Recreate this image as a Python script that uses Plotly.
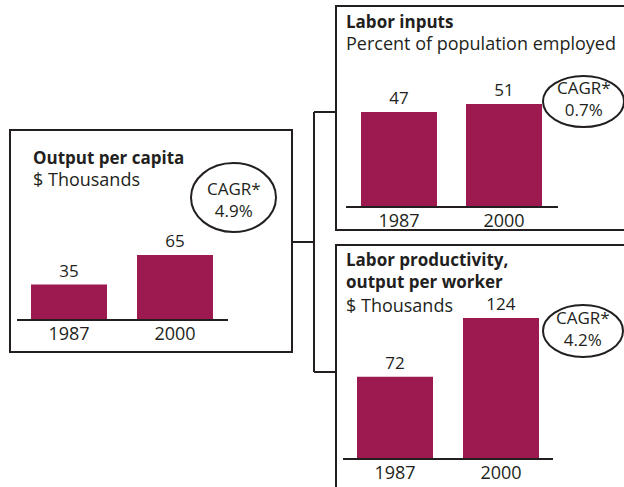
import plotly.graph_objects as go

# ---- data ----
years = ["1987", "2000"]
output_per_capita = [35, 65]
labor_inputs = [47, 51]
labor_productivity = [72, 124]
cagr_labels = ["4.9%", "0.7%", "4.2%"]
titles = [
    "<b>Output per capita</b>",
    "<b>Labor inputs</b>",
    "<b>Labor productivity,</b><br><b>output per worker</b>",
]
subtitles = ["$ Thousands", "Percent of population employed", "$ Thousands"]

W, H = 624, 487
BAR = "#9C1A4F"
INK = "#231F20"
FONT = "Open Sans"
FS = 17


def px(x):
    return x / W


def py(y):
    return 1 - y / H


fig = go.Figure()

# panel geometry: baseline x0, x1, first bar center, spacing, baseline y, px per unit, top y
panels = [
    (output_per_capita, 17, 228, 69, 106, 319, 0.985, 140),
    (labor_inputs, 346, 558, 399, 105, 206, 2.0, 40),
    (labor_productivity, 343, 553, 395, 106, 458, 1.13, 290),
]

layout_axes = {}
for i, (vals, x0, x1, c0, sp, base, scale, top) in enumerate(panels):
    n = "" if i == 0 else str(i + 1)
    fig.add_trace(go.Bar(
        x=years, y=vals, xaxis="x" + n, yaxis="y" + n,
        marker=dict(color=BAR, line=dict(width=0)),
        width=76 / sp,
        text=[str(v) for v in vals], textposition="outside",
        textfont=dict(family=FONT, size=FS, color=INK),
        cliponaxis=False, hoverinfo="skip", showlegend=False,
    ))
    layout_axes["xaxis" + n] = dict(
        domain=[px(x0), px(x1)], range=[(x0 - c0) / sp, (x1 - c0) / sp],
        anchor="y" + n, showline=True, linecolor=INK, linewidth=2,
        showgrid=False, zeroline=False, ticks="", ticklabelstandoff=-3,
        tickfont=dict(family=FONT, size=18, color=INK), fixedrange=True,
        type="category",
    )
    layout_axes["yaxis" + n] = dict(
        domain=[py(base), py(top)], range=[0, (base - top) / scale],
        anchor="x" + n, visible=False, fixedrange=True,
    )

fig.update_layout(**layout_axes)

shapes = []
line = dict(color=INK, width=2)
# panel boxes
shapes.append(dict(type="rect", xref="paper", yref="paper", x0=px(10), x1=px(292), y0=py(352), y1=py(130), line=line))
shapes.append(dict(type="rect", xref="paper", yref="paper", x0=px(336), x1=px(640), y0=py(230), y1=py(6), line=line))
shapes.append(dict(type="rect", xref="paper", yref="paper", x0=px(336), x1=px(640), y0=py(500), y1=py(245), line=line))
# connectors
for (a, b, c, d) in [(292, 242, 314, 242), (314, 112, 314, 372), (314, 112, 336, 112), (314, 372, 336, 372)]:
    shapes.append(dict(type="line", xref="paper", yref="paper", x0=px(a), y0=py(b), x1=px(c), y1=py(d), line=line))
# CAGR ellipses: x0, y0, x1, y1, text centre y
ellipses = [(191, 163, 276, 232, 199), (543, 76, 624, 127, 99), (543, 305, 623, 357, 328)]
for (a, b, c, d, _) in ellipses:
    shapes.append(dict(type="circle", xref="paper", yref="paper", x0=px(a), y0=py(d), x1=px(c), y1=py(b), line=line))

annotations = []
for (a, b, c, d, ty), lab in zip(ellipses, cagr_labels):
    annotations.append(dict(xref="paper", yref="paper", x=px((a + c) / 2), y=py(ty),
                            xanchor="center", yanchor="middle", align="center",
                            text="CAGR*<br>" + lab, showarrow=False,
                            font=dict(family=FONT, size=17, color=INK)))

# title blocks: left x, top y (panels 1 and 2 combined title+subtitle)
for (x, ty), t, s in zip([(32, 145), (345, 9)], titles[:2], subtitles[:2]):
    annotations.append(dict(xref="paper", yref="paper", x=px(x), y=py(ty), xanchor="left", yanchor="top",
                            align="left", borderpad=0,
                            text=t + "<br><span style='font-size:18px'>" + s + "</span>",
                            showarrow=False, font=dict(family=FONT, size=FS, color=INK)))
# panel 3: two-line bold title, then subtitle
annotations.append(dict(xref="paper", yref="paper", x=px(345), y=py(247), xanchor="left", yanchor="top",
                        align="left", borderpad=0, text=titles[2], showarrow=False,
                        font=dict(family=FONT, size=FS, color=INK)))
annotations.append(dict(xref="paper", yref="paper", x=px(345), y=py(292), xanchor="left", yanchor="top",
                        align="left", borderpad=0, text=subtitles[2], showarrow=False,
                        font=dict(family=FONT, size=18, color=INK)))

fig.update_layout(
    width=W, height=H, margin=dict(l=0, r=0, t=0, b=0),
    paper_bgcolor="white", plot_bgcolor="white",
    shapes=shapes, annotations=annotations,
    font=dict(family=FONT, color=INK),
)

fig.write_html("out.html", config={"displayModeBar": False},
               post_script="document.body.style.margin='0';document.body.style.padding='0';")
